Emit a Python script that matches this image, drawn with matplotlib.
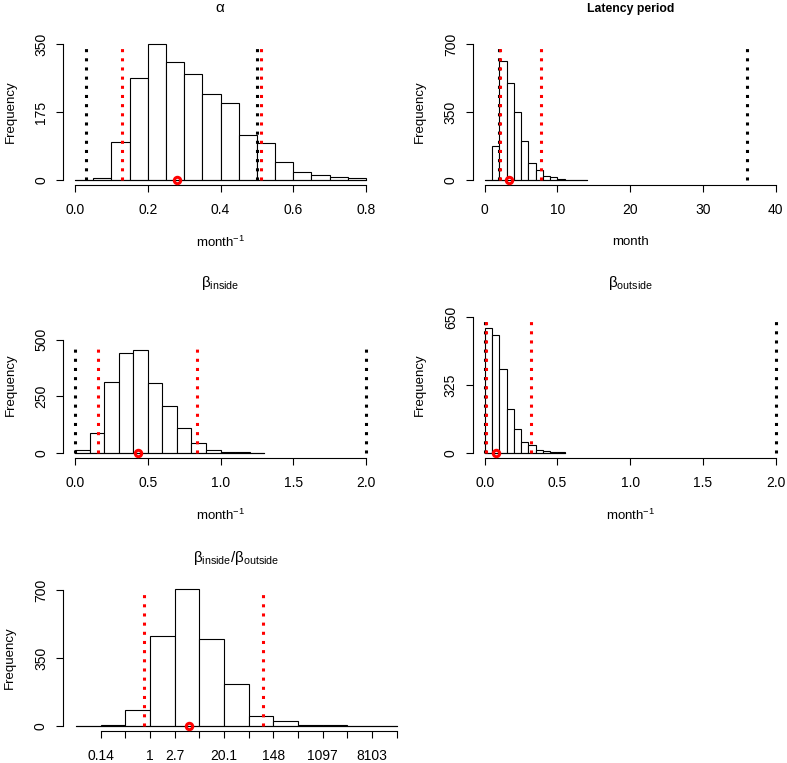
import matplotlib
matplotlib.use("Agg")
import matplotlib.pyplot as plt

plt.rcParams["font.family"] = ["Liberation Sans", "DejaVu Sans"]
plt.rcParams["mathtext.fontset"] = "custom"
plt.rcParams["mathtext.rm"] = "Liberation Sans"
plt.rcParams["mathtext.it"] = "Liberation Sans:italic"
plt.rcParams["mathtext.bf"] = "Liberation Sans:bold"

FIG_W, FIG_H = 787, 763

# --- alpha (month^-1)
alpha_edges = [0.0, 0.05, 0.1, 0.15, 0.2, 0.25, 0.3, 0.35, 0.4, 0.45, 0.5, 0.55, 0.6, 0.65, 0.7, 0.75, 0.8]
alpha_counts = [0, 6, 97, 262, 350, 304, 274, 221, 199, 115, 94, 47, 20, 12, 7, 4]
alpha_prior = [0.03, 0.50]
alpha_ci = [0.13, 0.51]
alpha_est = 0.28

# --- latency period (month)
lat_edges = [0, 1, 2, 3, 4, 5, 6, 7, 8, 9, 10, 11, 12, 13, 14]
lat_counts = [0, 177, 614, 499, 349, 200, 89, 53, 21, 14, 3, 2, 1, 1]
lat_prior = [2.0, 36.0]
lat_ci = [2.1, 7.7]
lat_est = 3.4

# --- beta inside
bin_edges = [0.0, 0.1, 0.2, 0.3, 0.4, 0.5, 0.6, 0.7, 0.8, 0.9, 1.0, 1.1, 1.2, 1.3]
bin_counts = [13, 87, 314, 442, 453, 309, 206, 108, 44, 12, 4, 3, 1]
bin_prior = [0.0, 2.0]
bin_ci = [0.16, 0.84]
bin_est = 0.43

# --- beta outside
bout_edges = [0.0, 0.05, 0.1, 0.15, 0.2, 0.25, 0.3, 0.35, 0.4, 0.45, 0.5, 0.55]
bout_counts = [596, 564, 400, 211, 114, 53, 38, 16, 8, 5, 3]
bout_prior = [0.0, 2.0]
bout_ci = [0.01, 0.32]
bout_est = 0.08

# --- ratio beta_inside / beta_outside (log scale)
ratio_edges = [-3, -2, -1, 0, 1, 2, 3, 4, 5, 6, 7, 8, 9, 10]
ratio_counts = [0, 6, 82, 465, 703, 446, 216, 53, 26, 7, 4, 1, 2]
ratio_ci = [-0.24, 4.6]
ratio_est = 1.6
ratio_ticks = [-2, -1, 0, 1, 2, 3, 4, 5, 6, 7, 8, 9, 10]
ratio_labels = ["0.14", "", "1", "2.7", "", "20.1", "", "148", "", "1097", "", "8103", ""]

MINUS1 = r"month$^{-1}$"


def add_panel(fig, box, xlim, ylim_top):
    """box = (left, top, right, bottom) of the plot region in pixels."""
    l, t, r, b = box
    ax = fig.add_axes([l / FIG_W, 1 - b / FIG_H, (r - l) / FIG_W, (b - t) / FIG_H])
    x0, x1 = xlim
    dx = 0.04 * (x1 - x0)
    ax.set_xlim(x0 - dx, x1 + dx)
    ax.set_ylim(-0.04 * ylim_top, 1.04 * ylim_top)
    for s in ("top", "right"):
        ax.spines[s].set_visible(False)
    for s in ("left", "bottom"):
        ax.spines[s].set_linewidth(0.8)
    ax.tick_params(length=5, width=0.8, colors="black", labelsize=10)
    ax.tick_params(axis="x", pad=7.5)
    ax.tick_params(axis="y", pad=6)
    ax.patch.set_alpha(0)
    return ax


def draw_hist(ax, edges, counts):
    widths = [edges[i + 1] - edges[i] for i in range(len(counts))]
    ax.bar(edges[:-1], counts, width=widths, align="edge", facecolor="white",
           edgecolor="black", linewidth=0.8, zorder=2)
    ax.plot([edges[0], edges[-1]], [0, 0], color="black", linewidth=0.8, zorder=2)


def draw_marks(ax, prior, ci, est, top):
    for x in prior:
        ax.plot([x, x], [0, top], color="black", linewidth=2.2, dashes=(1, 2),
                dash_capstyle="butt", zorder=3)
    for x in ci:
        ax.plot([x, x], [0, top], color="red", linewidth=2.2, dashes=(1, 2),
                dash_capstyle="butt", zorder=4)
    ax.plot([est], [0], marker="o", markersize=4.6, markerfacecolor="none",
            markeredgecolor="red", markeredgewidth=2.2, zorder=5, clip_on=False)


def finish(ax, yticks, xticks, xlabels, title, title_off, xlabel=None, bold=False):
    ax.set_yticks(yticks)
    ax.set_yticklabels([str(v) for v in yticks], rotation=90, va="center")
    ax.spines["left"].set_bounds(yticks[0], yticks[-1])
    ax.set_xticks(xticks)
    ax.set_xticklabels(xlabels)
    ax.spines["bottom"].set_bounds(xticks[0], xticks[-1])
    h = ax.get_position().height * FIG_H
    ax.text(-53 / (ax.get_position().width * FIG_W), 0.5, "Frequency", rotation=90,
            ha="center", va="center", fontsize=9.5, transform=ax.transAxes)
    ax.text(0.5, 1 + title_off / h, title, ha="center", va="center",
            fontsize=8.8 if bold else 11, fontweight="bold" if bold else "normal",
            transform=ax.transAxes)
    if xlabel:
        ax.text(0.5, -57 / h, xlabel, ha="center", va="center", fontsize=9.5,
                transform=ax.transAxes)


def main():
    fig = plt.figure(figsize=(FIG_W / 100, FIG_H / 100), dpi=100)

    row_t = [38.6, 311.6, 584.6]
    row_b = [185.4, 458.4, 731.4]

    ax = add_panel(fig, (63.4, row_t[0], 377.6, row_b[0]), (0, 0.8), 350)
    draw_hist(ax, alpha_edges, alpha_counts)
    draw_marks(ax, alpha_prior, alpha_ci, alpha_est, 350)
    finish(ax, [0, 175, 350], [0, 0.2, 0.4, 0.6, 0.8], ["0.0", "0.2", "0.4", "0.6", "0.8"],
           r"$\mathrm{\alpha}$", 31, MINUS1)

    ax = add_panel(fig, (473.1, row_t[0], 787.3, row_b[0]), (0, 40), 700)
    draw_hist(ax, lat_edges, lat_counts)
    draw_marks(ax, lat_prior, lat_ci, lat_est, 700)
    finish(ax, [0, 350, 700], [0, 10, 20, 30, 40], ["0", "10", "20", "30", "40"],
           "Latency period", 30, "month", bold=True)

    ax = add_panel(fig, (63.4, row_t[1], 377.6, row_b[1]), (0, 2), 600)
    draw_hist(ax, bin_edges, bin_counts)
    draw_marks(ax, bin_prior, bin_ci, bin_est, 476)
    finish(ax, [0, 250, 500], [0, 0.5, 1, 1.5, 2], ["0.0", "0.5", "1.0", "1.5", "2.0"],
           r"$\mathrm{\beta_{inside}}$", 29, MINUS1)

    ax = add_panel(fig, (473.1, row_t[1], 787.3, row_b[1]), (0, 2), 650)
    draw_hist(ax, bout_edges, bout_counts)
    draw_marks(ax, bout_prior, bout_ci, bout_est, 650)
    finish(ax, [0, 325, 650], [0, 0.5, 1, 1.5, 2], ["0.0", "0.5", "1.0", "1.5", "2.0"],
           r"$\mathrm{\beta_{outside}}$", 29, MINUS1)

    ax = add_panel(fig, (63.2, row_t[2], 409.5, row_b[2]), (-3, 10), 700)
    draw_hist(ax, ratio_edges, ratio_counts)
    draw_marks(ax, [], ratio_ci, ratio_est, 700)
    finish(ax, [0, 350, 700], ratio_ticks, ratio_labels,
           r"$\mathrm{\beta_{inside}/\beta_{outside}}$", 27)

    fig.savefig("out.png", dpi=100)
    plt.close(fig)


if __name__ == "__main__":
    main()
